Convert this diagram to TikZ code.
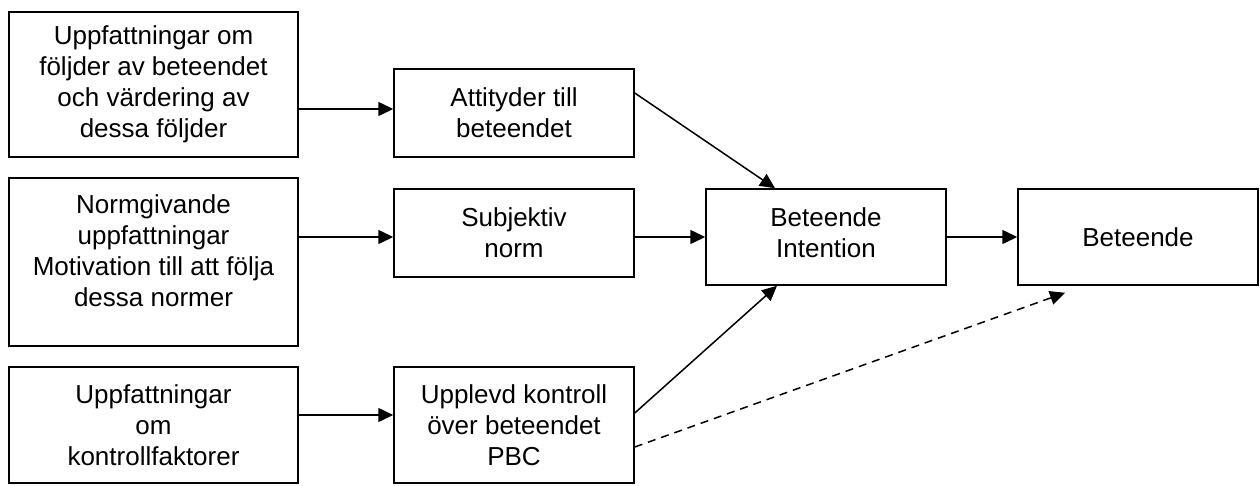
\documentclass[tikz,border=0pt]{standalone}
\usepackage{fontspec}
\setmainfont{Liberation Sans}
\usetikzlibrary{arrows.meta}
\begin{document}
\begin{tikzpicture}[x=1pt,y=-1pt,
  box/.style={draw=black,line width=1.5pt,rectangle,inner sep=0pt,align=center,
    font=\fontsize{26}{31}\selectfont},
  lbl/.style={inner sep=0pt,align=center,font=\fontsize{26}{31}\selectfont},
  arr/.style={line width=1.5pt,-{Triangle[length=15pt,width=14pt]}},
  darr/.style={arr,dash pattern=on 8pt off 6pt}]
\useasboundingbox (0,0) rectangle (1260,485);
\node[box,minimum width=289pt,minimum height=145pt] (a1) at (153.5,84.5)
  {Uppfattningar om\\följder av beteendet\\och värdering av\\dessa följder};
\node[box,minimum width=240pt,minimum height=88pt] (a2) at (514,113)
  {Attityder till\\beteendet};
\node[box,minimum width=289pt,minimum height=168pt] (b1) at (153.5,262) {};
\node[lbl] (b1t) at (153.5,251)
  {Normgivande\\uppfattningar\\Motivation till att följa\\dessa normer};
\node[box,minimum width=240pt,minimum height=88pt] (b2) at (514,233)
  {Subjektiv\\norm};
\node[box,minimum width=289pt,minimum height=116pt] (c1) at (153.5,425)
  {Uppfattningar\\om\\kontrollfaktorer};
\node[box,minimum width=240pt,minimum height=116pt] (c2) at (514,425)
  {Upplevd kontroll\\över beteendet\\PBC};
\node[box,minimum width=240pt,minimum height=96pt] (int) at (826,237) {};
\node[lbl] (intt) at (826,233) {Beteende\\Intention};
\node[box,minimum width=240pt,minimum height=96pt] (bet) at (1138,237)
  {Beteende};
\draw[arr] ([yshift=-24.5pt]a1.east) -- ([yshift=-24.5pt]a1.east -| a2.west);
\draw[arr] (b1.east |- int.west) -- (b2.west |- int.west);
\draw[arr] (b2.east |- int.west) -- (int.west);
\draw[arr] (int.east) -- (bet.west);
\draw[arr] ([yshift=10pt]c1.east) -- ([yshift=10pt]c2.west);
\draw[arr] ([yshift=20pt]a2.east) -- ([xshift=-51pt]int.north);
\draw[arr] ([yshift=12pt]c2.east) -- ([xshift=-49pt]int.south);
\draw[darr] ([yshift=-22pt]c2.east) -- ([xshift=-73pt,yshift=-7pt]bet.south);
\end{tikzpicture}
\end{document}
